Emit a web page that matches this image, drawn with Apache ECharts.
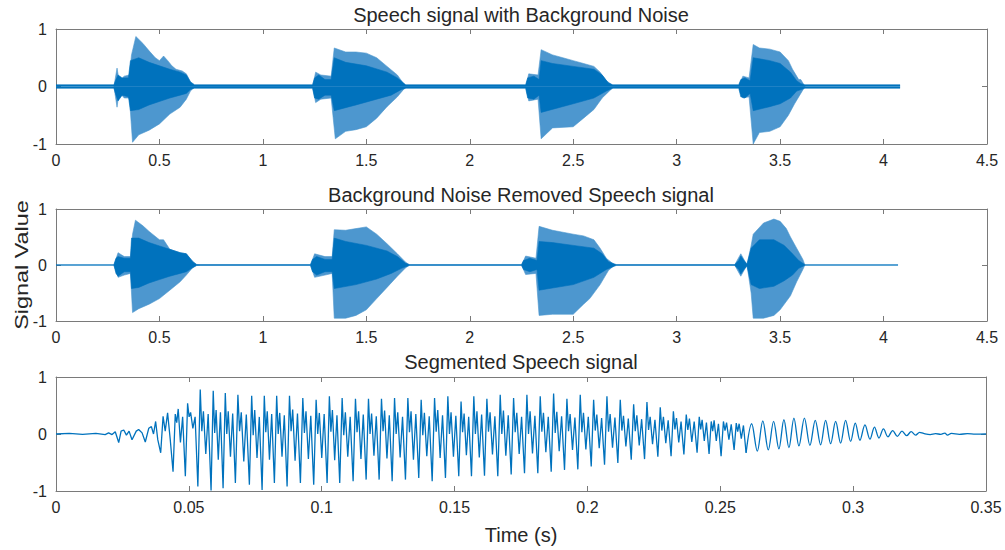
<!DOCTYPE html>
<html><head><meta charset="utf-8">
<script src="https://cdn.jsdelivr.net/npm/echarts@6/dist/echarts.min.js"></script>
<style>html,body{margin:0;padding:0;background:#fff}#c{width:1005px;height:550px}</style>
</head><body><div id="c"></div><script>
// ---------- Tick labels / titles ----------
const titles = ['Speech signal with Background Noise', 'Background Noise Removed Speech signal', 'Segmented Speech signal'];
const yLabel = 'Signal Value';
const xLabel = 'Time (s)';

// ---------- Panel 1: noisy speech, envelopes [time s, value] ----------
const p1UpperCore = [[0,0.03],[0.28,0.03],[0.29,0.12],[0.30,0.2],[0.32,0.15],[0.35,0.15],[0.36,0.45],[0.40,0.50],[0.45,0.42],[0.50,0.36],[0.55,0.30],[0.60,0.25],[0.63,0.2],[0.65,0.08],[0.67,0.03],
 [1.24,0.03],[1.25,0.15],[1.27,0.2],[1.30,0.12],[1.33,0.12],[1.345,0.5],[1.40,0.42],[1.50,0.36],[1.60,0.25],[1.65,0.15],[1.69,0.03],
 [2.27,0.03],[2.28,0.15],[2.31,0.18],[2.335,0.12],[2.345,0.45],[2.40,0.40],[2.50,0.35],[2.60,0.30],[2.64,0.2],[2.67,0.06],[2.69,0.03],
 [3.30,0.03],[3.31,0.12],[3.33,0.15],[3.355,0.10],[3.37,0.5],[3.45,0.45],[3.50,0.40],[3.55,0.25],[3.58,0.10],[3.60,0.05],[3.62,0.03],[4.08,0.03]];
const p1LowerCore = [[0,-0.03],[0.28,-0.03],[0.29,-0.15],[0.30,-0.25],[0.32,-0.15],[0.35,-0.18],[0.36,-0.42],[0.40,-0.40],[0.45,-0.32],[0.50,-0.26],[0.55,-0.2],[0.60,-0.15],[0.63,-0.12],[0.65,-0.05],[0.67,-0.03],
 [1.24,-0.03],[1.25,-0.2],[1.27,-0.22],[1.30,-0.15],[1.33,-0.15],[1.345,-0.42],[1.45,-0.32],[1.55,-0.22],[1.62,-0.15],[1.67,-0.05],[1.69,-0.03],
 [2.27,-0.03],[2.28,-0.2],[2.31,-0.22],[2.335,-0.15],[2.345,-0.45],[2.50,-0.30],[2.60,-0.20],[2.66,-0.08],[2.69,-0.03],
 [3.30,-0.03],[3.31,-0.18],[3.33,-0.2],[3.355,-0.12],[3.37,-0.42],[3.45,-0.35],[3.50,-0.30],[3.55,-0.20],[3.58,-0.08],[3.62,-0.03],[4.08,-0.03]];
const p1UpperSpike = [[0.28,0],[0.295,0.32],[0.305,0.1],[0.33,0.18],[0.355,0.2],[0.365,0.55],[0.386,0.87],[0.42,0.75],[0.45,0.62],[0.48,0.50],[0.50,0.45],[0.52,0.53],[0.54,0.45],[0.56,0.36],[0.58,0.30],[0.61,0.27],[0.63,0.22],[0.65,0.08],[0.67,0],
 [1.24,0],[1.255,0.25],[1.28,0.2],[1.33,0.18],[1.345,0.67],[1.40,0.60],[1.45,0.60],[1.50,0.58],[1.55,0.5],[1.60,0.35],[1.65,0.2],[1.68,0.05],[1.70,0],
 [2.27,0],[2.285,0.22],[2.33,0.2],[2.345,0.64],[2.40,0.55],[2.45,0.50],[2.50,0.45],[2.55,0.40],[2.60,0.35],[2.63,0.25],[2.66,0.10],[2.70,0],
 [3.30,0],[3.32,0.18],[3.35,0.15],[3.37,0.73],[3.40,0.67],[3.45,0.65],[3.50,0.60],[3.54,0.45],[3.56,0.30],[3.59,0.12],[3.60,0.12],[3.62,0]];
const p1LowerSpike = [[0.28,0],[0.295,-0.36],[0.305,-0.1],[0.33,-0.2],[0.355,-0.2],[0.37,-0.97],[0.40,-0.84],[0.45,-0.76],[0.50,-0.65],[0.55,-0.48],[0.60,-0.36],[0.63,-0.22],[0.65,-0.08],[0.67,0],
 [1.24,0],[1.255,-0.28],[1.28,-0.22],[1.33,-0.2],[1.35,-0.91],[1.40,-0.78],[1.45,-0.75],[1.50,-0.70],[1.55,-0.55],[1.60,-0.35],[1.65,-0.18],[1.68,-0.05],[1.70,0],
 [2.27,0],[2.285,-0.25],[2.33,-0.22],[2.345,-0.91],[2.40,-0.72],[2.50,-0.70],[2.55,-0.55],[2.60,-0.40],[2.64,-0.2],[2.68,-0.06],[2.70,0],
 [3.30,0],[3.32,-0.2],[3.35,-0.18],[3.37,-1.0],[3.40,-0.80],[3.45,-0.78],[3.50,-0.70],[3.54,-0.50],[3.57,-0.30],[3.60,-0.12],[3.62,0]];

// ---------- Panel 2: noise removed ----------
const p2UpperCore = [[0,0.005],[0.28,0.005],[0.29,0.12],[0.30,0.15],[0.33,0.12],[0.36,0.12],[0.365,0.48],[0.40,0.48],[0.45,0.40],[0.50,0.34],[0.55,0.28],[0.60,0.22],[0.63,0.2],[0.66,0.06],[0.68,0.01],[0.70,0.005],
 [1.23,0.005],[1.24,0.1],[1.26,0.15],[1.30,0.1],[1.335,0.1],[1.345,0.48],[1.40,0.42],[1.50,0.35],[1.60,0.25],[1.65,0.15],[1.69,0.03],[1.71,0.005],
 [2.25,0.005],[2.26,0.08],[2.29,0.12],[2.325,0.08],[2.335,0.42],[2.40,0.40],[2.50,0.35],[2.60,0.30],[2.64,0.2],[2.67,0.06],[2.71,0.005],
 [3.28,0.005],[3.30,0.08],[3.31,0.16],[3.325,0.08],[3.34,0.02],[3.36,0.3],[3.40,0.45],[3.47,0.45],[3.52,0.35],[3.56,0.2],[3.59,0.08],[3.62,0.005],[4.07,0.005]];
const p2LowerCore = [[0,-0.005],[0.28,-0.005],[0.29,-0.15],[0.30,-0.2],[0.33,-0.12],[0.36,-0.12],[0.365,-0.42],[0.40,-0.40],[0.45,-0.32],[0.50,-0.26],[0.55,-0.2],[0.60,-0.15],[0.63,-0.12],[0.66,-0.05],[0.68,-0.01],[0.70,-0.005],
 [1.23,-0.005],[1.24,-0.12],[1.26,-0.18],[1.30,-0.12],[1.335,-0.12],[1.345,-0.42],[1.45,-0.35],[1.55,-0.25],[1.62,-0.15],[1.67,-0.06],[1.71,-0.005],
 [2.25,-0.005],[2.26,-0.08],[2.29,-0.12],[2.325,-0.08],[2.335,-0.45],[2.50,-0.35],[2.60,-0.22],[2.66,-0.08],[2.71,-0.005],
 [3.28,-0.005],[3.30,-0.08],[3.31,-0.16],[3.325,-0.08],[3.34,-0.02],[3.36,-0.35],[3.40,-0.42],[3.47,-0.38],[3.52,-0.28],[3.56,-0.18],[3.59,-0.06],[3.62,-0.005],[4.07,-0.005]];
const p2UpperSpike = [[0.28,0],[0.30,0.22],[0.33,0.15],[0.36,0.15],[0.37,0.55],[0.384,0.80],[0.42,0.70],[0.45,0.60],[0.50,0.45],[0.52,0.45],[0.55,0.28],[0.60,0.22],[0.63,0.2],[0.66,0.07],[0.68,0],
 [1.23,0],[1.25,0.2],[1.30,0.15],[1.335,0.15],[1.345,0.63],[1.40,0.62],[1.45,0.65],[1.50,0.68],[1.55,0.55],[1.60,0.38],[1.65,0.2],[1.69,0.05],[1.71,0],
 [2.25,0],[2.27,0.16],[2.32,0.12],[2.335,0.69],[2.40,0.62],[2.50,0.55],[2.55,0.52],[2.60,0.45],[2.63,0.3],[2.66,0.12],[2.70,0],
 [3.28,0],[3.31,0.2],[3.34,0],[3.36,0.35],[3.37,0.55],[3.42,0.75],[3.47,0.82],[3.50,0.78],[3.53,0.65],[3.55,0.5],[3.58,0.3],[3.61,0.1],[3.62,0]];
const p2LowerSpike = [[0.28,0],[0.30,-0.22],[0.33,-0.18],[0.36,-0.15],[0.37,-0.85],[0.40,-0.78],[0.45,-0.70],[0.50,-0.60],[0.55,-0.45],[0.60,-0.30],[0.63,-0.18],[0.66,-0.05],[0.68,0],
 [1.23,0],[1.25,-0.22],[1.30,-0.18],[1.335,-0.15],[1.345,-0.95],[1.40,-0.95],[1.45,-0.9],[1.50,-0.8],[1.55,-0.6],[1.60,-0.4],[1.65,-0.2],[1.69,-0.05],[1.71,0],
 [2.25,0],[2.27,-0.17],[2.32,-0.15],[2.335,-0.9],[2.40,-0.88],[2.50,-0.88],[2.55,-0.7],[2.58,-0.6],[2.63,-0.35],[2.67,-0.1],[2.70,0],
 [3.28,0],[3.31,-0.2],[3.34,0],[3.36,-0.5],[3.37,-0.95],[3.42,-0.95],[3.47,-0.9],[3.50,-0.8],[3.55,-0.55],[3.58,-0.3],[3.61,-0.08],[3.62,0]];

// ---------- Panel 3: segmented speech ----------
// onset samples [time s, value]
const segOnset = [[0,0],[0.005,0.01],[0.01,-0.005],[0.015,0.01],[0.0185,-0.01],[0.0198,0.02],[0.0211,-0.01],[0.0223,0.04],[0.0236,-0.15],[0.0245,0.05],[0.0255,0.07],[0.0265,-0.02],[0.0275,0.05],[0.0286,-0.10],[0.0302,0.05],[0.0311,0.08],[0.0324,0.02],[0.0336,-0.14],[0.0349,0.10],[0.0359,0.13],[0.0367,0.0],[0.0375,0.22],[0.0383,-0.1],[0.0394,-0.33],[0.0403,0.31],[0.0411,0.05],[0.0420,0.37],[0.0430,-0.1]];
// voiced pitch cycles: time of deep trough and the extreme values within each cycle
const segTroughT = [0.04405,0.04868,0.05339,0.05836,0.06288,0.06751,0.07278,0.07756,0.08219,0.08697,0.09198,0.09699,0.10203,0.10678,0.11182,0.11672,0.12161,0.12651,0.13152,0.13652,0.14157,0.14657,0.15158,0.15636,0.16126,0.16627,0.17131,0.17632,0.18133,0.18637,0.19138,0.19639,0.20143,0.20644,0.21145,0.21649,0.22150,0.22651,0.23148,0.23630,0.24127,0.24578,0.25030,0.25520];
const segTrough = [-0.66,-0.74,-0.92,-0.99,-0.95,-0.86,-0.89,-0.98,-0.86,-0.92,-0.86,-0.89,-0.86,-0.86,-0.83,-0.80,-0.80,-0.83,-0.80,-0.77,-0.83,-0.77,-0.74,-0.74,-0.73,-0.74,-0.71,-0.69,-0.69,-0.66,-0.63,-0.62,-0.57,-0.54,-0.51,-0.45,-0.44,-0.40,-0.39,-0.36,-0.33,-0.35,-0.39,-0.28];
const segPeak = [0.35,0.54,0.78,0.76,0.72,0.69,0.67,0.67,0.67,0.67,0.63,0.60,0.66,0.63,0.62,0.62,0.62,0.63,0.63,0.60,0.63,0.66,0.57,0.66,0.62,0.69,0.63,0.69,0.66,0.71,0.62,0.69,0.60,0.66,0.60,0.52,0.56,0.47,0.40,0.34,0.30,0.22,0.22,0.19];
const segDip = [0.20,0.30,0.05,0.02,0.0,0.05,-0.02,0.03,0.0,0.05,0.02,0.0,0.04,-0.02,0.03,0.0,0.05,0.0,0.03,-0.02,0.04,0.0,0.03,0.0,0.04,0.0,0.03,0.0,0.04,0.02,0.05,0.03,0.06,0.04,0.06,0.05,0.07,0.06,0.08,0.07,0.08,0.05,0.06,0.04];
const segMidPeakA = [0.44,0.38,0.40,0.42,0.40,0.38,0.42,0.40,0.37,0.43,0.40,0.37,0.42,0.38,0.40,0.36,0.41,0.38,0.40,0.37,0.42,0.38,0.36,0.40,0.38,0.41,0.37,0.40,0.37,0.39,0.35,0.37,0.34,0.35,0.32,0.33,0.30,0.30,0.28,0.27,0.25,0.24,0.20,0.18];
const segMidTrough = [-0.15,0.10,-0.35,-0.45,-0.40,-0.48,-0.42,-0.45,-0.40,-0.47,-0.44,-0.42,-0.46,-0.40,-0.44,-0.38,-0.43,-0.41,-0.45,-0.39,-0.42,-0.40,-0.37,-0.41,-0.36,-0.38,-0.35,-0.34,-0.32,-0.30,-0.28,-0.27,-0.25,-0.24,-0.22,-0.20,-0.18,-0.16,-0.15,-0.14,-0.12,-0.12,-0.10,-0.08];
const segMidPeakB = [0.30,0.30,0.35,0.38,0.36,0.34,0.30,0.35,0.33,0.36,0.32,0.35,0.33,0.30,0.34,0.31,0.33,0.30,0.35,0.31,0.33,0.32,0.30,0.34,0.31,0.33,0.30,0.32,0.30,0.31,0.29,0.30,0.28,0.29,0.27,0.26,0.25,0.24,0.22,0.22,0.20,0.18,0.17,0.15];
// decaying, near-sinusoidal cycles
const decayTroughT = [0.25971,0.26393,0.26807,0.27206,0.27583,0.27959,0.28373,0.28776,0.29153,0.29529,0.29906,0.30256,0.30633,0.30972,0.31310,0.31664,0.32014,0.32353];
const decayTrough = [-0.33,-0.30,-0.28,-0.26,-0.24,-0.21,-0.20,-0.19,-0.17,-0.16,-0.13,-0.11,-0.09,-0.07,-0.05,-0.04,-0.03,-0.02];
const decayPeak = [0.18,0.23,0.22,0.25,0.28,0.28,0.24,0.24,0.22,0.24,0.19,0.16,0.12,0.09,0.06,0.05,0.04,0.03];
const segTail = [[0.3265,0.01],[0.329,-0.01],[0.331,0.005],[0.333,-0.005],[0.3345,0.015],[0.3355,-0.02],[0.337,0.01],[0.34,-0.005],[0.343,0.005],[0.346,-0.003],[0.35,0]];

// ---------- build line data ----------
const voiced = segOnset.slice();
for (let i = 0; i < segTroughT.length; i++) {
  const t = segTroughT[i];
  const next = i + 1 < segTroughT.length ? segTroughT[i + 1] : decayTroughT[0];
  const p = next - t;
  voiced.push([t, segTrough[i]], [t + 0.18 * p, segPeak[i]], [t + 0.3 * p, segDip[i]],
              [t + 0.42 * p, segMidPeakA[i]], [t + 0.6 * p, segMidTrough[i]], [t + 0.78 * p, segMidPeakB[i]]);
}
const decay = [];
for (let i = 0; i < decayTroughT.length; i++) {
  const t = decayTroughT[i];
  const next = i + 1 < decayTroughT.length ? decayTroughT[i + 1] : segTail[0][0];
  decay.push([t, decayTrough[i]], [t + 0.5 * (next - t), decayPeak[i]]);
}
voiced.push([decayTroughT[0], decayTrough[0]]);
const decayAll = decay.concat(segTail);

// ---------- chart ----------
const BLUE = '#0072BD';
const AX = '#7a7a7a';
const TXT = '#262626';
const FONT = '"Liberation Sans", Arial, Helvetica, sans-serif';

const grids = [
  {left: 56, top: 29, width: 931, height: 115},
  {left: 56, top: 209, width: 931, height: 112},
  {left: 56, top: 377, width: 930, height: 114}
];
const xSpecs = [{max: 4.5, interval: 0.5}, {max: 4.5, interval: 0.5}, {max: 0.35, interval: 0.05}];

const xAxis = [], yAxis = [];
grids.forEach((g, i) => {
  const s = xSpecs[i];
  const base = {type: 'value', gridIndex: i, min: 0, max: s.max, interval: s.interval,
    axisLine: {show: true, onZero: false, lineStyle: {color: AX, width: 1}},
    axisTick: {show: true, inside: true, length: 5, lineStyle: {color: AX}},
    splitLine: {show: false}};
  xAxis.push(Object.assign({}, base, {position: 'bottom',
    axisLabel: {show: true, color: TXT, fontSize: 16, fontFamily: FONT, margin: 8,
      formatter: v => String(+v.toFixed(2))}}));
  xAxis.push(Object.assign({}, base, {position: 'top', axisLabel: {show: false}}));
  const ybase = {type: 'value', gridIndex: i, min: -1, max: 1, interval: 1,
    axisLine: {show: true, onZero: false, lineStyle: {color: AX, width: 1}},
    axisTick: {show: true, inside: true, length: 5, lineStyle: {color: AX}},
    splitLine: {show: false}};
  yAxis.push(Object.assign({}, ybase, {position: 'left',
    axisLabel: {show: true, color: TXT, fontSize: 16, fontFamily: FONT, margin: 9}}));
  yAxis.push(Object.assign({}, ybase, {position: 'right', axisLabel: {show: false}}));
});

function area(data, gi, color, z) {
  return {type: 'line', xAxisIndex: gi * 2, yAxisIndex: gi * 2, data: data, showSymbol: false,
    symbol: 'none', silent: true, z: z, lineStyle: {color: color, width: 0.6},
    areaStyle: {color: color, opacity: 1, origin: 0}};
}
const LIGHT = '#4d97cf';
const series = [
  area(p1UpperSpike, 0, LIGHT, 2), area(p1LowerSpike, 0, LIGHT, 2),
  area(p1UpperCore, 0, BLUE, 3), area(p1LowerCore, 0, BLUE, 3),
  area(p2UpperSpike, 1, LIGHT, 2), area(p2LowerSpike, 1, LIGHT, 2),
  area(p2UpperCore, 1, BLUE, 3), area(p2LowerCore, 1, BLUE, 3),
  {type: 'line', xAxisIndex: 4, yAxisIndex: 4, data: voiced, showSymbol: false, symbol: 'none', silent: true,
   lineStyle: {color: BLUE, width: 1.3}},
  {type: 'line', xAxisIndex: 4, yAxisIndex: 4, data: decayAll, showSymbol: false, symbol: 'none', silent: true,
   smooth: 0.35, lineStyle: {color: BLUE, width: 1.3}}
];

const titleYs = [15, 195, 362];
const graphic = titles.map((t, i) => ({type: 'text', x: 521, y: titleYs[i],
  style: {text: t, fill: TXT, font: '20px ' + FONT, textAlign: 'center', textVerticalAlign: 'middle'}}));
graphic.push({type: 'text', x: 22, y: 265, rotation: Math.PI / 2, scaleX: 1.3,
  style: {text: yLabel, fill: TXT, font: '18px ' + FONT, textAlign: 'center', textVerticalAlign: 'middle'}});
graphic.push({type: 'text', x: 521, y: 535,
  style: {text: xLabel, fill: TXT, font: '20px ' + FONT, textAlign: 'center', textVerticalAlign: 'middle'}});

const chart = echarts.init(document.getElementById('c'), null, {renderer: 'svg'});
chart.setOption({animation: false, backgroundColor: '#fff', grid: grids, xAxis: xAxis, yAxis: yAxis,
  series: series, graphic: graphic});
</script></body></html>
